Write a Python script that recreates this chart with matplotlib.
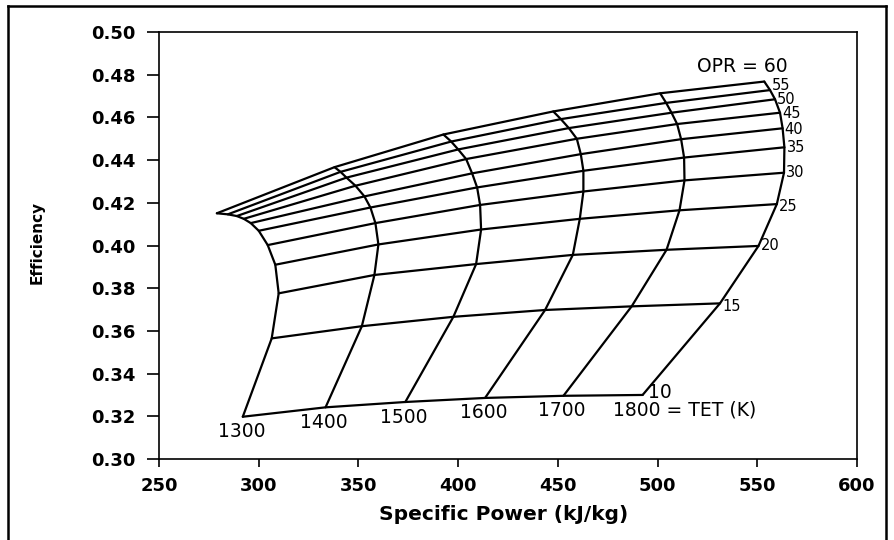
import matplotlib
matplotlib.use("Agg")
import matplotlib.pyplot as plt
from matplotlib.lines import Line2D

# Overall pressure ratios and turbine entry temperatures of the carpet
opr = [10, 15, 20, 25, 30, 35, 40, 45, 50, 55, 60]
tet = [1300, 1400, 1500, 1600, 1700, 1800]

# Specific power (kJ/kg) at each OPR, one list per TET
power_1300 = [292.0, 306.5, 310.0, 308.3, 304.5, 300.0, 296.0, 292.5, 289.0, 284.5, 279.0]
power_1400 = [333.5, 351.7, 358.0, 360.0, 358.5, 356.0, 353.0, 348.5, 344.0, 341.0, 338.0]
power_1500 = [373.5, 397.6, 409.0, 411.5, 411.0, 409.5, 407.0, 404.0, 400.0, 396.5, 392.6]
power_1600 = [413.5, 443.6, 457.5, 461.0, 462.8, 462.8, 461.5, 459.5, 455.5, 451.5, 447.7]
power_1700 = [452.8, 487.0, 504.5, 511.0, 513.5, 513.3, 511.8, 509.8, 507.0, 504.3, 501.3]
power_1800 = [492.5, 531.3, 550.6, 559.8, 563.4, 563.6, 562.7, 561.4, 558.9, 556.4, 553.5]

# Thermal efficiency at each OPR, one list per TET
eff_1300 = [0.3198, 0.3565, 0.3776, 0.3910, 0.4002, 0.4069, 0.4105, 0.4125, 0.4138, 0.4146, 0.4151]
eff_1400 = [0.3242, 0.3622, 0.3862, 0.4005, 0.4105, 0.4178, 0.4230, 0.4280, 0.4318, 0.4345, 0.4367]
eff_1500 = [0.3267, 0.3666, 0.3913, 0.4075, 0.4190, 0.4272, 0.4338, 0.4405, 0.4450, 0.4487, 0.4520]
eff_1600 = [0.3286, 0.3698, 0.3956, 0.4125, 0.4253, 0.4350, 0.4428, 0.4500, 0.4550, 0.4592, 0.4628]
eff_1700 = [0.3296, 0.3715, 0.3980, 0.4165, 0.4305, 0.4412, 0.4498, 0.4569, 0.4622, 0.4668, 0.4713]
eff_1800 = [0.3300, 0.3729, 0.3998, 0.4194, 0.4341, 0.4460, 0.4549, 0.4622, 0.4685, 0.4728, 0.4768]

power = [power_1300, power_1400, power_1500, power_1600, power_1700, power_1800]
eff = [eff_1300, eff_1400, eff_1500, eff_1600, eff_1700, eff_1800]

x_ticks = [250, 300, 350, 400, 450, 500, 550, 600]
y_ticks = [0.30, 0.32, 0.34, 0.36, 0.38, 0.40, 0.42, 0.44, 0.46, 0.48, 0.50]

plt.rcParams['font.family'] = ['DejaVu Sans']

fig = plt.figure(figsize=(8.94, 5.40), dpi=100)
ax = fig.add_axes([0.1779, 0.15, 0.9586 - 0.1779, 0.9407 - 0.15])

lw = 1.6
# constant-TET lines
for px, ey in zip(power, eff):
    ax.plot(px, ey, color='black', lw=lw, solid_joinstyle='round', solid_capstyle='round')
# constant-OPR lines
for j in range(len(opr)):
    ax.plot([p[j] for p in power], [e[j] for e in eff], color='black', lw=lw,
            solid_joinstyle='round', solid_capstyle='round')

big_fs = 13.5
num_fs = 10.5
# vertical nudges (points) that keep the crowded OPR numbers apart
opr_dy = {15: -2, 20: 0, 25: -2, 30: 0, 35: 0, 40: -1, 45: -0.5, 50: 0, 55: 3.5}

# OPR labels at the hot end of each pressure-ratio line
for j, r in enumerate(opr):
    xy = (power_1800[j], eff_1800[j])
    if r == 60:
        ax.annotate('OPR = 60', xy, xytext=(17, 10.5), textcoords='offset points',
                    ha='right', va='center', fontsize=big_fs)
    elif r == 10:
        ax.annotate('10', xy, xytext=(4, 2), textcoords='offset points',
                    ha='left', va='center', fontsize=big_fs)
    else:
        ax.annotate(str(r), xy, xytext=(1.5, opr_dy[r]), textcoords='offset points',
                    ha='left', va='center', fontsize=num_fs)

# TET labels below the low-pressure end of each temperature line
for i, t in enumerate(tet):
    xy = (power[i][0], eff[i][0])
    if t == 1800:
        ax.annotate('1800 = TET (K)', xy, xytext=(-21, -4), textcoords='offset points',
                    ha='left', va='top', fontsize=big_fs)
    else:
        ax.annotate(str(t), xy, xytext=(-1, -4), textcoords='offset points',
                    ha='center', va='top', fontsize=big_fs)

ax.set_xlim(250, 600)
ax.set_ylim(0.30, 0.50)
ax.set_xticks(x_ticks)
ax.set_yticks(y_ticks)
ax.set_yticklabels([f'{v:.2f}' for v in y_ticks])
ax.tick_params(axis='x', direction='out', length=6, width=1.2, pad=7, labelsize=13)
ax.tick_params(axis='y', direction='out', length=9, width=1.2, pad=8, labelsize=13)
for lab in ax.get_xticklabels() + ax.get_yticklabels():
    lab.set_fontweight('bold')
for s in ax.spines.values():
    s.set_linewidth(1.2)

ax.set_xlabel('Specific Power (kJ/kg)', fontsize=14.5, fontweight='bold')
ax.xaxis.set_label_coords(0.493, -0.131)
ax.xaxis.label.set_verticalalignment('center')
ax.set_ylabel('Efficiency', fontsize=11, fontweight='bold')
ax.yaxis.set_label_coords(-0.175, 0.508)
ax.yaxis.label.set_verticalalignment('center')

# frame around the figure
for xs, ys in [((0.009, 0.009), (0.0, 0.989)),
               ((0.009, 0.991), (0.989, 0.989)),
               ((0.991, 0.991), (0.989, 0.0))]:
    fig.add_artist(Line2D(xs, ys, transform=fig.transFigure, color='black', lw=1.8))

fig.savefig('out.png', dpi=100)
